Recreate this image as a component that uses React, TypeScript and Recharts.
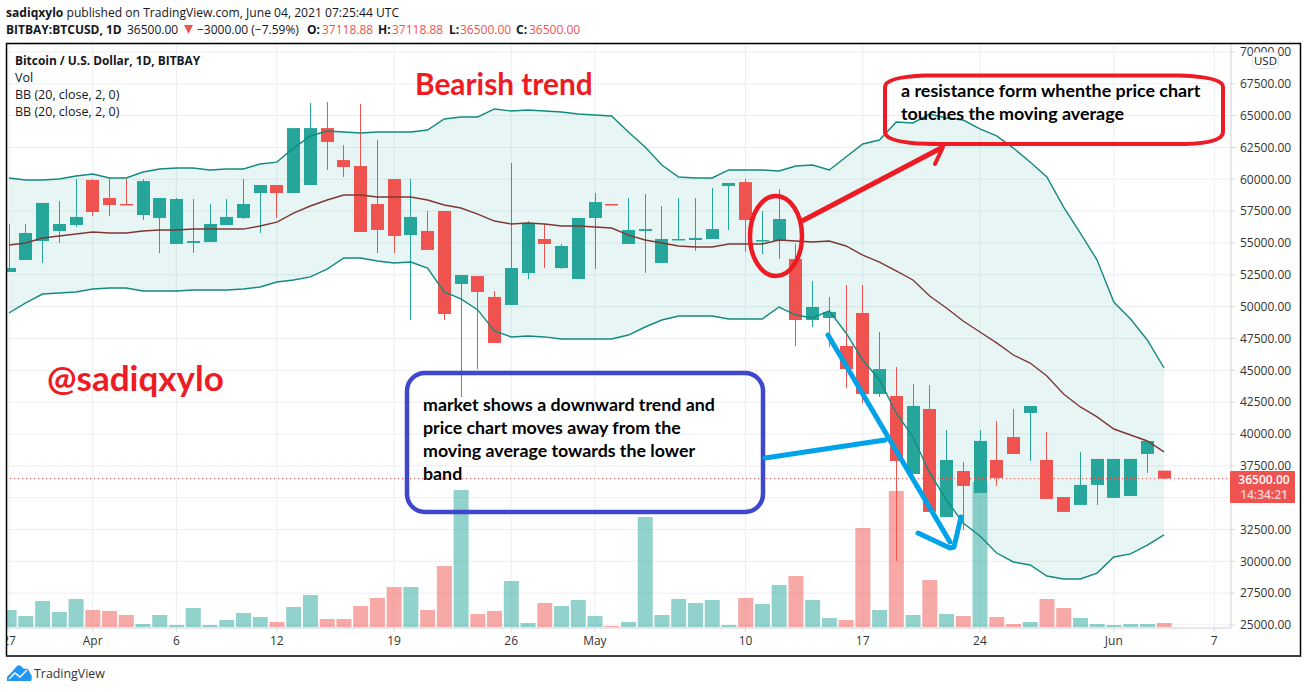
import React from 'react';
import { ComposedChart, Area, Bar, Line, XAxis, YAxis, CartesianGrid, ReferenceLine, Cell } from 'recharts';

const W = 1307;
const H = 692;
const UP = '#26a69a';
const DOWN = '#ef5350';
const FONT = '"Open Sans", sans-serif';
const NOTE_FONT = 'Lato, sans-serif';

// days are counted from Apr 1, first candle is Mar 27
const firstDay = -5;
const dayDomain = [-5.12, 68];

const opens = [
  52720, 53660, 55150, 55940, 56410, 59940, 58530, 58060, 57190, 56960,
  54920, 55000, 55070, 56410, 56960, 58920, 59550, 58920, 59550, 64020,
  61510, 61040, 58060, 60020, 55620, 55940, 57510, 51780, 52400, 50760,
  50130, 52640, 55310, 53030, 52170, 56960, 58060, 54920, 55940, 53430,
  55230, 55230, 55310, 59470, 59780, 55150, 55150, 53740, 48950, 49110,
  46910, 49500, 43140, 42980, 36860, 41960, 33480, 37090, 35370, 37960,
  39760, 41650, 37960, 35050, 34430, 36000, 34980, 35130, 38430, 37118.88,
];
const highs = [
  56490, 56490, 58140, 58290, 60020, 60020, 60020, 60020, 60020, 58530,
  58530, 58450, 58060, 58450, 60020, 59550, 59550, 64020, 65990, 66070,
  62690, 65910, 63080, 60020, 60020, 57510, 57510, 52480, 52400, 51230,
  61280, 56720, 56490, 54920, 56960, 58920, 58060, 58530, 58840, 57900,
  58530, 58530, 59310, 59710, 60020, 57510, 59230, 54920, 52010, 50760,
  51700, 51700, 48010, 45260, 43930, 43850, 40310, 37800, 40310, 41020,
  41960, 42200, 40160, 35050, 38590, 38040, 38040, 38040, 39450, 37118.88,
];
const lows = [
  52720, 53660, 53430, 55000, 56250, 57110, 57110, 57980, 56800, 54210,
  54920, 54210, 55070, 56410, 56880, 55780, 56960, 58920, 59550, 60730,
  60180, 55860, 54210, 54210, 48950, 54450, 48950, 42910, 45100, 47150,
  50130, 52170, 53030, 52950, 52170, 52950, 57980, 54920, 52640, 53430,
  55230, 54370, 55310, 56020, 54290, 54130, 53740, 46910, 48400, 46830,
  43610, 42430, 42910, 30030, 36860, 33880, 33480, 32460, 35370, 35920,
  38430, 37880, 34900, 33880, 34430, 34430, 34980, 35130, 36940, 36500,
];
const closes = [
  53030, 55780, 58140, 56490, 57040, 57430, 57980, 57980, 59860, 58530,
  58450, 55150, 56490, 57040, 58060, 59550, 58920, 64020, 64020, 62930,
  60960, 55860, 56020, 55550, 57040, 54450, 49420, 52480, 51150, 47150,
  53030, 56490, 54920, 54760, 56960, 58210, 57980, 56020, 56090, 55310,
  55310, 55390, 56090, 59710, 56800, 55230, 56880, 48950, 49970, 49580,
  45100, 43140, 45100, 37880, 42200, 33880, 37960, 35920, 39450, 36550,
  38430, 42200, 34900, 33880, 36000, 38040, 38040, 38040, 39450, 36500,
];
const volumes = [
  17, 11, 26, 15, 28, 17, 16, 12, 3, 12,
  2, 19, 2, 7, 14, 10, 5, 20, 32, 8,
  8, 21, 29, 40, 40, 17, 61, 137, 13, 16,
  46, 4, 24, 21, 27, 11, 1, 5, 110, 12,
  28, 24, 27, 2, 29, 23, 42, 51, 27, 9,
  7, 99, 17, 136, 12, 47, 13, 11, 145, 10,
  3, 5, 28, 19, 9, 3, 2, 3, 3, 4,
];
const bbUpper = [
  60100, 59940, 59940, 60020, 60260, 60410, 60100, 60100, 60570, 60810,
  60880, 60880, 60730, 60810, 60810, 61200, 61350, 62450, 63400, 63790,
  63710, 63630, 63710, 63710, 63710, 63870, 64730, 64890, 64890, 65520,
  65360, 65440, 65360, 65280, 65120, 65050, 64970, 63710, 62530, 61120,
  60180, 60100, 60100, 60730, 60730, 60730, 60650, 61040, 61120, 60730,
  61750, 62770, 63080, 64500, 64420, 65120, 64810, 64650, 63950, 63400,
  62450, 61350, 60180, 57820, 55780, 53660, 50360, 49030, 47380, 45180,
];
const bbBasis = [
  54840, 55000, 55390, 55550, 55700, 55860, 55780, 55780, 55940, 56020,
  56020, 56090, 56090, 56090, 56090, 56330, 56640, 57350, 57900, 58370,
  58760, 58760, 58610, 58610, 58610, 58370, 57980, 57740, 57270, 56720,
  56490, 56570, 56490, 56330, 56330, 56250, 56170, 55620, 55230, 55000,
  54760, 54680, 54680, 54920, 54920, 54920, 55230, 55150, 55070, 55150,
  54760, 54050, 53500, 52800, 52090, 50830, 49890, 48870, 48010, 47150,
  46200, 45570, 44550, 43140, 42120, 41340, 40390, 39920, 39450, 38590,
];
const bbLower = [
  49500, 50290, 50990, 51070, 51150, 51380, 51460, 51460, 51230, 51230,
  51230, 51310, 51310, 51310, 51380, 51540, 51930, 52090, 52330, 52950,
  53820, 53820, 53580, 53430, 53500, 53030, 51150, 50600, 49740, 48090,
  47620, 47690, 47620, 47460, 47460, 47460, 47460, 47770, 48400, 48950,
  49260, 49260, 49260, 49030, 49030, 49030, 49970, 49340, 49110, 49660,
  47930, 45810, 44240, 41650, 39760, 36940, 34820, 33010, 31990, 30650,
  29950, 29710, 28850, 28610, 28610, 29080, 30340, 30580, 31280, 32070,
];

const dayTicks = [-5, 0, 5, 11, 18, 25, 30, 39, 46, 53, 61, 67];
const dayLabels = ['27', 'Apr', '6', '12', '19', '26', 'May', '10', '17', '24', 'Jun', '7'];
const priceTicks = [
  25000, 27500, 30000, 32500, 35000, 37500, 40000, 42500, 45000, 47500,
  50000, 52500, 55000, 57500, 60000, 62500, 65000, 67500, 70000,
];
const lastPrice = 36500;

const data = opens.map((open, i) => ({
  day: firstDay + i,
  open,
  high: highs[i],
  low: lows[i],
  close: closes[i],
  volume: volumes[i],
  upper: bbUpper[i],
  basis: bbBasis[i],
  lower: bbLower[i],
}));

const Candle = (props: any) => {
  const { x, y, width, height, payload } = props;
  const { open, high, low, close } = payload;
  const color = close >= open ? UP : DOWN;
  const perPrice = height / (high - low);
  const top = y + (high - Math.max(open, close)) * perPrice;
  const bottom = y + (high - Math.min(open, close)) * perPrice;
  const left = Math.round(x);
  const w = Math.round(width);
  return (
    <g>
      <rect x={left + Math.floor(w / 2)} y={y} width={1} height={height} fill={color} />
      <rect x={left} y={top} width={w} height={Math.max(bottom - top, 1.5)} fill={color} />
    </g>
  );
};

const Txt = ({ x, y, size = 12, bold = false, color = '#131722', font = FONT, children }: any) => (
  <text x={x} y={y} fontSize={size} fontWeight={bold ? 700 : 400} fill={color} fontFamily={font}>
    {children}
  </text>
);

// hand drawn notes on top of the chart
const Overlay = () => (
  <svg width={W} height={H} style={{ position: 'absolute', left: 0, top: 0 }}>
    <rect x={0} y={43} width={6} height={614} fill="#fff" />
    <rect x={6.5} y={43.5} width={1294} height={612.5} fill="none" stroke="#000" strokeWidth={1.5} />

    <text x={6} y={17} fontSize={12.1} fontFamily={FONT} fill="#131722">
      <tspan fontWeight={700}>sadiqxylo</tspan> published on TradingView.com, June 04, 2021 07:25:44 UTC
    </text>
    <Txt x={6} y={34} bold>BITBAY:BTCUSD, 1D</Txt>
    <Txt x={127} y={34}>36500.00</Txt>
    <path d="M184 25 L193 25 L188.5 34 Z" fill={DOWN} />
    <Txt x={197} y={34}>−3000.00 (−7.59%)</Txt>
    <Txt x={307} y={34} bold>O:</Txt>
    <Txt x={322} y={34} color={DOWN}>37118.88</Txt>
    <Txt x={378} y={34} bold>H:</Txt>
    <Txt x={392} y={34} color={DOWN}>37118.88</Txt>
    <Txt x={449} y={34} bold>L:</Txt>
    <Txt x={460} y={34} color={DOWN}>36500.00</Txt>
    <Txt x={516} y={34} bold>C:</Txt>
    <Txt x={529} y={34} color={DOWN}>36500.00</Txt>

    <Txt x={15} y={65} size={11.9} bold>Bitcoin / U.S. Dollar, 1D, BITBAY</Txt>
    <Txt x={15} y={82} size={12.5}>Vol</Txt>
    <Txt x={15} y={99} size={12.5}>BB (20, close, 2, 0)</Txt>
    <Txt x={15} y={116} size={12.5}>BB (20, close, 2, 0)</Txt>

    <rect x={1252.5} y={52.5} width={26} height={16} rx={3} fill="#fff" stroke="#e0e3eb" />
    <text x={1265.5} y={65} textAnchor="middle" fontSize={11.5} fontFamily={FONT} fill="#131722">USD</text>

    <rect x={1230} y={471} width={65} height={32} rx={1} fill={DOWN} />
    <text x={1264} y={484} textAnchor="middle" fontSize={12} fontWeight={600} fontFamily={FONT} fill="#fff">36500.00</text>
    <text x={1264} y={499} textAnchor="middle" fontSize={12} fontWeight={600} fontFamily={FONT} fill="#fbd0cf">14:34:21</text>

    <Txt x={415} y={95} size={29.8} bold color="#ed1c24" font={NOTE_FONT}>Bearish trend</Txt>
    <Txt x={47} y={391} size={35} bold color="#ed1c24" font={NOTE_FONT}>@sadiqxylo</Txt>

    <path
      d="M885 87 Q885 77 925 75.5 L1180 75.5 Q1223 77 1223 87 L1223 132 Q1223 143 1185 144 L940 144 Q885 144 885 132 Z"
      fill="none"
      stroke="#ed1c24"
      strokeWidth={4}
    />
    <Txt x={901} y={97} size={17.9} bold color="#000" font={NOTE_FONT}>a resistance form whenthe price chart</Txt>
    <Txt x={901} y={120} size={17.9} bold color="#000" font={NOTE_FONT}>touches the moving average</Txt>
    <ellipse cx={776} cy={236} rx={26} ry={40} fill="none" stroke="#ed1c24" strokeWidth={4.5} />
    <path d="M802 221 L943 147" fill="none" stroke="#ed1c24" strokeWidth={5} />
    <path d="M943 147 L935 164" fill="none" stroke="#ed1c24" strokeWidth={4} strokeLinecap="round" />

    <rect x={407} y={373} width={356} height={139} rx={18} fill="none" stroke="#3f48cc" strokeWidth={4.5} />
    <Txt x={423} y={411} size={17.8} bold color="#000" font={NOTE_FONT}>market shows a downward trend and</Txt>
    <Txt x={423} y={434} size={17.8} bold color="#000" font={NOTE_FONT}>price chart moves away from the</Txt>
    <Txt x={423} y={457} size={17.8} bold color="#000" font={NOTE_FONT}>moving average towards the lower</Txt>
    <Txt x={423} y={480} size={17.8} bold color="#000" font={NOTE_FONT}>band</Txt>

    <g fill="none" stroke="#00a2e8" strokeWidth={5} strokeLinecap="round" strokeLinejoin="round">
      <path d="M765 458 L885 440" />
      <path d="M828 335 L950 542" />
      <path d="M918 533 L950 548 L954 547 L961 517" />
    </g>

    <path
      d="M7 681 Q6 676 10 674 L17 666 Q19 664 22 667 L24 669 Q28 667 30 673 Q33 676 31 681 Z"
      fill="#2196f3"
    />
    <path d="M9 679 L15 673 L20 677 L27 670" fill="none" stroke="#fff" strokeWidth={1.4} />
    <Txt x={34} y={678} size={12.4} color="#333">TradingView</Txt>
  </svg>
);

export default function App() {
  return (
    <div style={{ position: 'absolute', left: 0, top: 0, width: W, height: H, background: '#fff' }}>
      <ComposedChart
        width={W}
        height={H}
        data={data}
        margin={{ top: 44, right: 0, bottom: 0, left: 7 }}
        barCategoryGap={0}
      >
        <CartesianGrid xAxisId="day" yAxisId="price" stroke="#eceef2" />
        <XAxis
          xAxisId="day"
          dataKey="day"
          type="number"
          domain={dayDomain}
          ticks={dayTicks}
          interval={0}
          tickFormatter={(d: number) => dayLabels[dayTicks.indexOf(d)]}
          height={64}
          tickSize={4}
          tickMargin={4}
          stroke="#d6d8de"
          tick={{ fontSize: 12, fontFamily: FONT, fill: '#333' }}
        />
        <XAxis xAxisId="vol" dataKey="day" type="number" domain={dayDomain} hide />
        <YAxis
          yAxisId="price"
          orientation="right"
          type="number"
          domain={[24764, 70622]}
          ticks={priceTicks}
          interval={0}
          width={76}
          tickSize={4}
          tickMargin={5}
          stroke="#d6d8de"
          tickFormatter={(v: number) => v.toFixed(2)}
          tick={{ fontSize: 12, fontFamily: FONT, fill: '#333' }}
        />
        <YAxis yAxisId="volume" type="number" domain={[-1, 583]} hide />
        <Bar xAxisId="vol" yAxisId="volume" dataKey="volume" barSize={15} isAnimationActive={false}>
          {data.map((d) => (
            <Cell key={d.day} fill={d.close >= d.open ? UP : DOWN} fillOpacity={0.5} />
          ))}
        </Bar>
        <Area
          xAxisId="day"
          yAxisId="price"
          dataKey={(d: any) => [d.lower, d.upper]}
          fill={UP}
          fillOpacity={0.11}
          stroke="none"
          dot={false}
          activeDot={false}
          isAnimationActive={false}
        />
        <Line xAxisId="day" yAxisId="price" dataKey="upper" stroke="#138a80" strokeWidth={1.4} dot={false} isAnimationActive={false} />
        <Line xAxisId="day" yAxisId="price" dataKey="lower" stroke="#138a80" strokeWidth={1.4} dot={false} isAnimationActive={false} />
        <Line xAxisId="day" yAxisId="price" dataKey="basis" stroke="#7d3833" strokeWidth={1.4} dot={false} isAnimationActive={false} />
        <ReferenceLine xAxisId="day" yAxisId="price" y={lastPrice} stroke={DOWN} strokeDasharray="1 3" />
        <Bar
          xAxisId="day"
          yAxisId="price"
          dataKey={(d: any) => [d.low, d.high]}
          barSize={13}
          shape={Candle}
          isAnimationActive={false}
        />
      </ComposedChart>
      <Overlay />
    </div>
  );
}
